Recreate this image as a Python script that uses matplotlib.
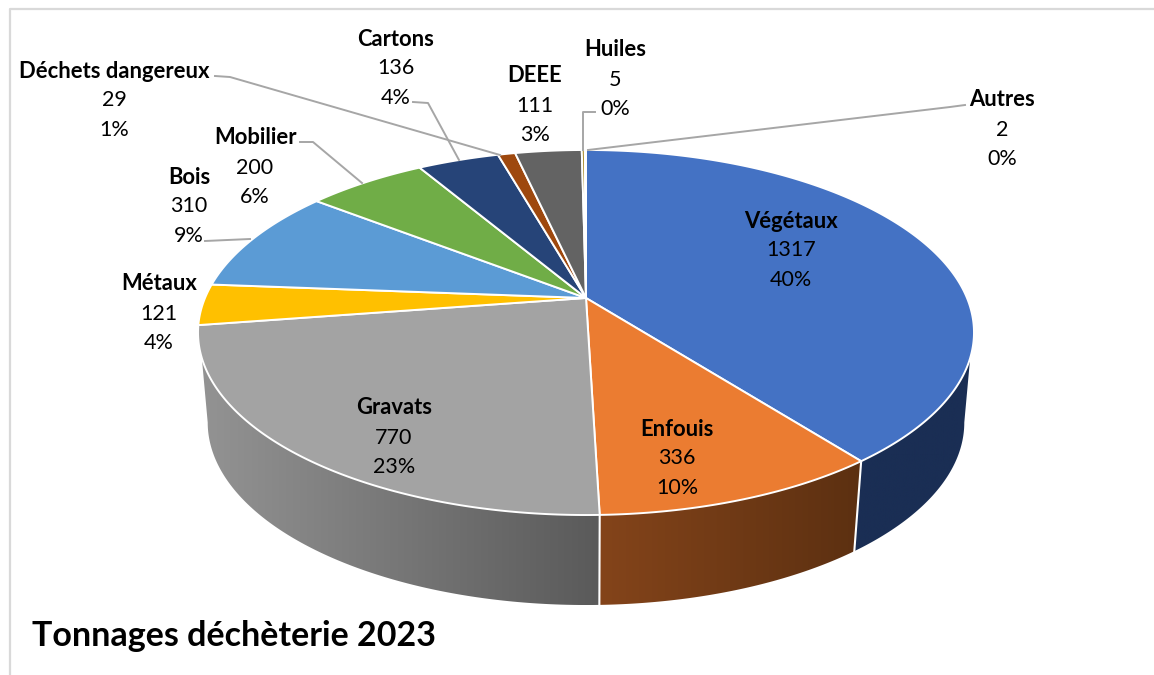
import numpy as np
import matplotlib
matplotlib.use("Agg")
import matplotlib.pyplot as plt
from matplotlib.colors import LinearSegmentedColormap
from matplotlib.patches import Polygon

plt.rcParams['font.family'] = ['Lato', 'DejaVu Sans']

# tonnages, in drawing order (clockwise from the top)
categories = ["Végétaux", "Enfouis", "Gravats", "Métaux", "Bois", "Mobilier",
              "Cartons", "Déchets dangereux", "DEEE", "Huiles", "Autres"]
values = [1317, 336, 770, 121, 310, 200, 136, 29, 111, 5, 2]
percents = [40, 10, 23, 4, 9, 6, 4, 1, 3, 0, 0]
title = "Tonnages déchèterie 2023"

colors = ["#4472C4", "#EB7C31", "#A3A3A3", "#FFC000", "#5B9BD5", "#70AD47",
          "#264478", "#9E480E", "#636363", "#997300", "#255E91"]
# side wall shading, left colour then right colour
wall_colors = {0: ("#1A2E54", "#1A2E54"), 1: ("#84441A", "#5C3011"), 2: ("#939393", "#5A5A5A")}

# where the label block of each slice starts (centre x, first line y), pixels
label_pos = [(791, 221), (677, 429), (394, 408), (159, 284), (189, 177), (255, 138),
             (396, 39), (114, 71), (535, 76), (615, 50), (1002, 100)]
leaders = [
    ([215, 230, 500], [76, 77, 155]),
    ([413, 428, 459], [102, 103, 160]),
    ([300, 313, 362], [142, 142, 183]),
    ([205, 250], [241, 239]),
    ([595, 583, 583], [112, 112, 150]),
    ([965, 950, 588], [105, 107, 150]),
]

# perspective of the disc: apex in pixels, then fitted on the rim of the top face
CX, CY = 586, 298
A, B, K = 381, 176, 0.189
# lower rim of the wall
SX, SY, DROP = 0.975, 1.0, 90
# the wall leaves the top rim a little below its widest point
WALL_TOP_START = np.radians(108.7)
LINE_H = 29.5


def rim(theta, lower=False):
    """theta in radians, clockwise from the top of the disc."""
    d = 1 + K * np.cos(theta)
    x = A * np.sin(theta) / d
    y = -B * np.cos(theta) / d
    if lower:
        return CX + SX * x, CY + SY * y + DROP
    return CX + x, CY + y


fig = plt.figure(figsize=(11.54, 6.75), dpi=100)
ax = fig.add_axes([0, 0, 1, 1])
ax.axis("off")

edges = np.cumsum([0] + values) / sum(values) * 2 * np.pi

# front of the disc only, each wall is a gradient clipped to its outline
low_start, low_end = np.arccos(-K), 2 * np.pi - np.arccos(-K)
for i, pair in wall_colors.items():
    t_top = np.linspace(max(edges[i], WALL_TOP_START),
                        min(edges[i + 1], 2 * np.pi - WALL_TOP_START), 120)
    t_low = np.linspace(max(edges[i], low_start), min(edges[i + 1], low_end), 120)
    xt, yt = rim(t_top)
    xb, yb = rim(t_low, lower=True)
    outline = np.c_[np.r_[xt, xb[::-1]], np.r_[yt, yb[::-1]]]
    cmap = LinearSegmentedColormap.from_list(f"wall{i}", pair)
    img = ax.imshow(np.linspace(0, 1, 256)[None, :], cmap=cmap, aspect="auto", zorder=1,
                    extent=(outline[:, 0].min(), outline[:, 0].max(),
                            outline[:, 1].max(), outline[:, 1].min()))
    img.set_clip_path(Polygon(outline, closed=True, transform=ax.transData))

# white seams on the wall where slices change
for e in edges[1:3]:
    xa, ya = rim(e)
    xb, yb = rim(e, lower=True)
    ax.plot([xa, xb], [ya, yb], color="white", lw=1.5, zorder=2)

# top face
for i, c in enumerate(colors):
    t = np.linspace(edges[i], edges[i + 1], max(int((edges[i + 1] - edges[i]) / 0.01), 2))
    xs, ys = rim(t)
    ax.fill(np.r_[CX, xs], np.r_[CY, ys], facecolor=c, edgecolor="white", lw=1.4,
            joinstyle="round", zorder=3)

for xs, ys in leaders:
    ax.plot(xs, ys, color="#A6A6A6", lw=1.4, zorder=4, solid_joinstyle="round")

for name, val, pct, (x, y) in zip(categories, values, percents, label_pos):
    ax.text(x, y, name, ha="center", va="center", fontsize=15.8, fontweight="bold", color="black", zorder=5)
    ax.text(x, y + LINE_H, str(val), ha="center", va="center", fontsize=15.5, color="black", zorder=5)
    ax.text(x, y + 2 * LINE_H, f"{pct}%", ha="center", va="center", fontsize=15.5, color="black", zorder=5)

ax.text(32, 646, title, ha="left", va="baseline", fontsize=24.5, fontweight="bold", color="black", zorder=5)

# chart frame, only top and left show in the crop
ax.plot([1154, 10, 10], [9, 9, 675], color="#D9D9D9", lw=1.6, zorder=0)

ax.set_xlim(0, 1154)
ax.set_ylim(675, 0)

fig.savefig("out.png", dpi=100)
